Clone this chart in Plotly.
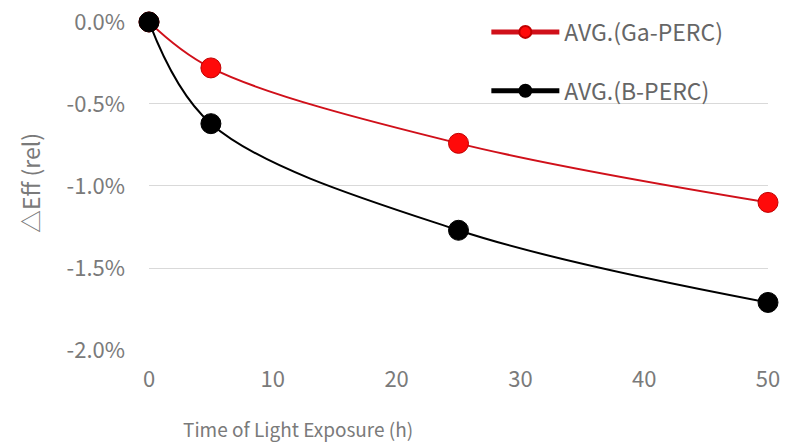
import plotly.graph_objects as go

hours = [0, 5, 25, 50]
ga_perc = [0.0, -0.28, -0.74, -1.10]
b_perc = [0.0, -0.62, -1.27, -1.71]
y_tickvals = [0.0, -0.5, -1.0, -1.5, -2.0]
y_ticktext = ["0.0%", "-0.5%", "-1.0%", "-1.5%", "-2.0%"]
x_tickvals = [0, 10, 20, 30, 40, 50]

FONT = "Noto Sans CJK SC"
GRAY = "#7a7a7a"

W, H = 789, 446
L, T = 149, 21
R = W - 768
B = H - 350
pw = W - L - R
ph = H - T - B

fig = go.Figure()
fig.add_trace(go.Scatter(
    x=hours, y=ga_perc, name="AVG.(Ga-PERC)", mode="lines+markers",
    line=dict(color="#d0101a", width=2, shape="spline", smoothing=1.0),
    marker=dict(color="#ff0a0a", size=20, line=dict(color="#c00000", width=1)),
    legendgroup="ga", cliponaxis=False,
))
fig.add_trace(go.Scatter(
    x=hours, y=b_perc, name="AVG.(B-PERC)", mode="lines+markers",
    line=dict(color="#000000", width=2, shape="spline", smoothing=1.0),
    marker=dict(color="#000000", size=20, line=dict(color="#000000", width=1)),
    legendgroup="b", cliponaxis=False,
))

fig.update_layout(
    width=W, height=H,
    margin=dict(l=L, r=R, t=T, b=B, autoexpand=False),
    paper_bgcolor="white", plot_bgcolor="white",
    font=dict(family=FONT, color=GRAY, size=18),
    legend=dict(
        x=0.545, y=1.032, xanchor="left", yanchor="top",
        bgcolor="rgba(0,0,0,0)", font=dict(size=23, color="#666666", family=FONT),
        tracegroupgap=26, itemwidth=68, itemsizing="constant",
    ),
    xaxis=dict(
        range=[0, 50], tickvals=x_tickvals, showgrid=False, zeroline=False,
        showline=False, ticks="", tickfont=dict(size=22, color=GRAY),
        ticklabelstandoff=14, automargin=False, ticklabeloverflow="allow",
    ),
    yaxis=dict(
        range=[-2.0, 0.006], tickvals=y_tickvals, ticktext=y_ticktext,
        showgrid=True, gridcolor="#d9d9d9", gridwidth=1, zeroline=False,
        showline=False, ticks="", tickfont=dict(size=22, color=GRAY),
        ticklabelstandoff=23, automargin=False, ticklabeloverflow="allow",
    ),
    annotations=[
        dict(text="Time of Light Exposure (h)",
             x=(298 - L) / pw, y=(H - B - 428) / ph,
             xref="paper", yref="paper", xanchor="center", yanchor="middle",
             showarrow=False, font=dict(size=19, color=GRAY)),
        dict(text="△Eff (rel)",
             x=(30 - L) / pw, y=(H - B - 183) / ph,
             xref="paper", yref="paper", xanchor="center", yanchor="middle",
             showarrow=False, textangle=-90, font=dict(size=23, color=GRAY)),
    ],
)

fig.write_html("out.html", config={"displayModeBar": False},
               post_script="document.body.style.margin='0';")
